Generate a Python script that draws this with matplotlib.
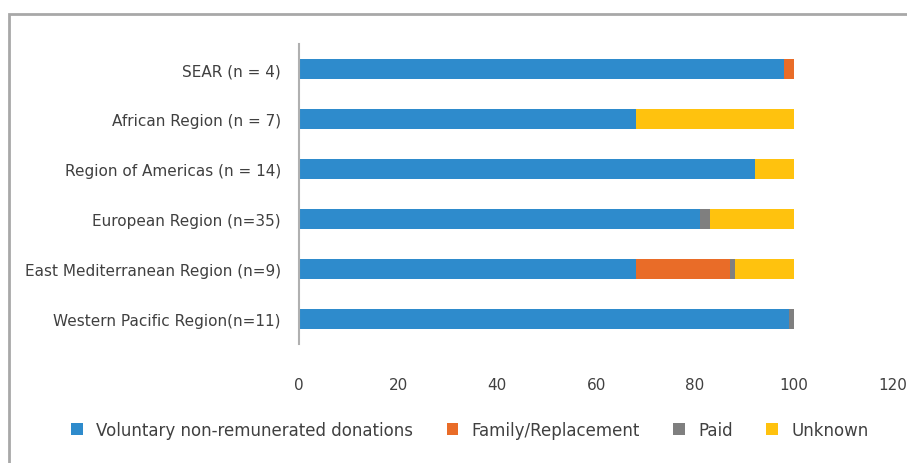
import matplotlib
matplotlib.use("Agg")
import matplotlib.pyplot as plt
from matplotlib.patches import Rectangle

plt.rcParams['font.family'] = ['DejaVu Sans']

# regions, top to bottom as drawn
regions = ['SEAR (n = 4)', 'African Region (n = 7)', 'Region of Americas (n = 14)',
           'European Region (n=35)', 'East Mediterranean Region (n=9)',
           'Western Pacific Region(n=11)']
voluntary = [98, 68, 92, 81, 68, 99]
family = [2, 0, 0, 0, 19, 0]
paid = [0, 0, 0, 2, 1, 1]
unknown = [0, 32, 8, 17, 12, 0]

series = [('Voluntary non-remunerated donations', voluntary, '#2E8BCC'),
          ('Family/Replacement', family, '#E96C28'),
          ('Paid', paid, '#7F7F7F'),
          ('Unknown', unknown, '#FFC20E')]

fig = plt.figure(figsize=(9.07, 4.64), dpi=100)
ax = fig.add_axes([0.3297, 0.2565, 0.655, 0.6465])

ypos = list(range(len(regions)))[::-1]
left = [0] * len(regions)
for name, vals, color in series:
    ax.barh(ypos, vals, left=left, height=0.4, color=color, label=name)
    left = [a + b for a, b in zip(left, vals)]

ax.set_xlim(0, 120)
ax.set_ylim(-0.5, 5.5)
ax.set_xticks(range(0, 121, 20))
ax.set_yticks(ypos)
ax.set_yticklabels(regions)
for s in ['top', 'right', 'bottom']:
    ax.spines[s].set_visible(False)
ax.spines['left'].set_color('#b0b0b0')
ax.spines['left'].set_linewidth(1.5)
ax.tick_params(axis='both', length=0, labelsize=11, colors='#404040')
ax.tick_params(axis='x', pad=24)
ax.tick_params(axis='y', pad=13)

fig.legend(loc='center', bbox_to_anchor=(0.518, 0.072), ncol=4, frameon=False,
           fontsize=12, handlelength=0.7, handleheight=0.7, handletextpad=0.8,
           columnspacing=2.0, labelcolor='#404040')

# outer frame
fig.patches.append(Rectangle((9 / 907, -0.1), 1.1, (464 - 15) / 464 + 0.1,
                             transform=fig.transFigure, fill=False,
                             edgecolor='#a8a8a8', linewidth=2))

fig.savefig('out.png', dpi=100)
